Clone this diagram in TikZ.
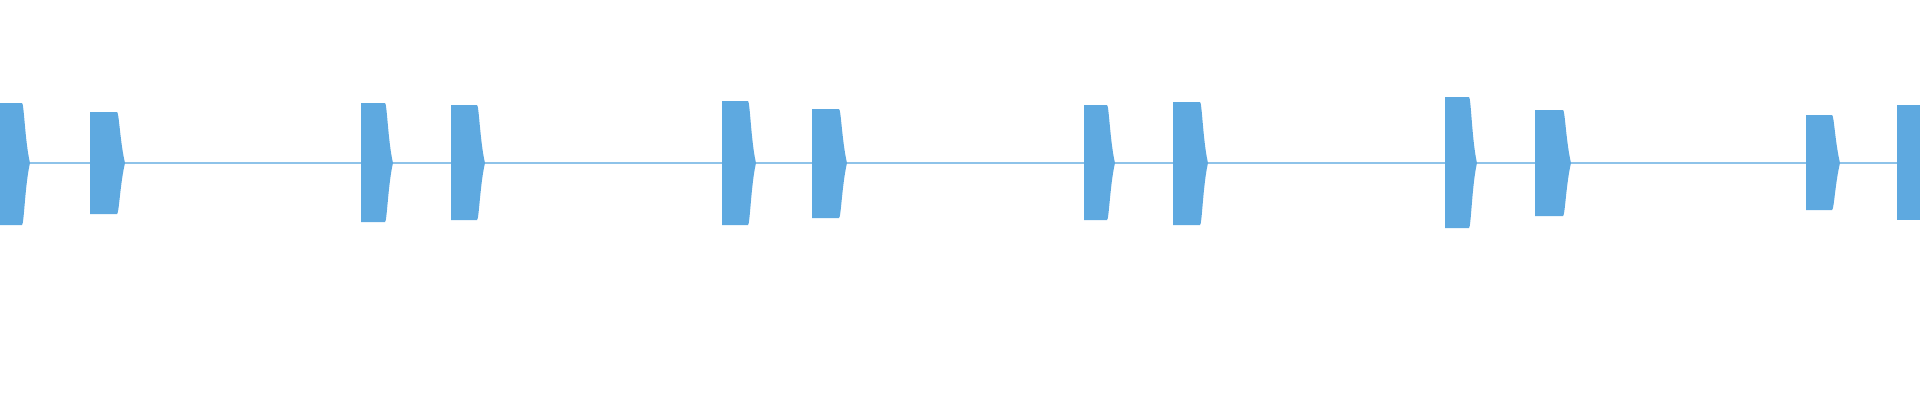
\documentclass[tikz,border=0pt]{standalone}
\definecolor{wave}{RGB}{94,169,224}
\newcommand{\burst}[4]{% start, end, top, bottom
  \fill[wave] (#1,#3) -- ({#2-8},#3) .. controls ({#2-6},#3) and ({#2-5},142) .. (#2,163)
    .. controls ({#2-5},184) and ({#2-6},#4) .. ({#2-8},#4) -- (#1,#4) -- cycle;}
\begin{document}
\begin{tikzpicture}[x=0.01cm,y=-0.01cm]
\useasboundingbox (0,0) rectangle (1920,400);
\draw[wave!70,line width=0.5pt] (0,163) -- (1920,163);
\foreach \s/\e/\t/\b in {0/30/103/225, 90/125/112/214, 361/393/103/222, 451/485/105/220,
  722/756/101/225, 812/847/109/218, 1084/1115/105/220, 1173/1208/102/225,
  1445/1477/97/228, 1535/1571/110/216, 1806/1840/115/210}
  \burst{\s}{\e}{\t}{\b};
\fill[wave] (1897,105) rectangle (1920,220);
\end{tikzpicture}
\end{document}
